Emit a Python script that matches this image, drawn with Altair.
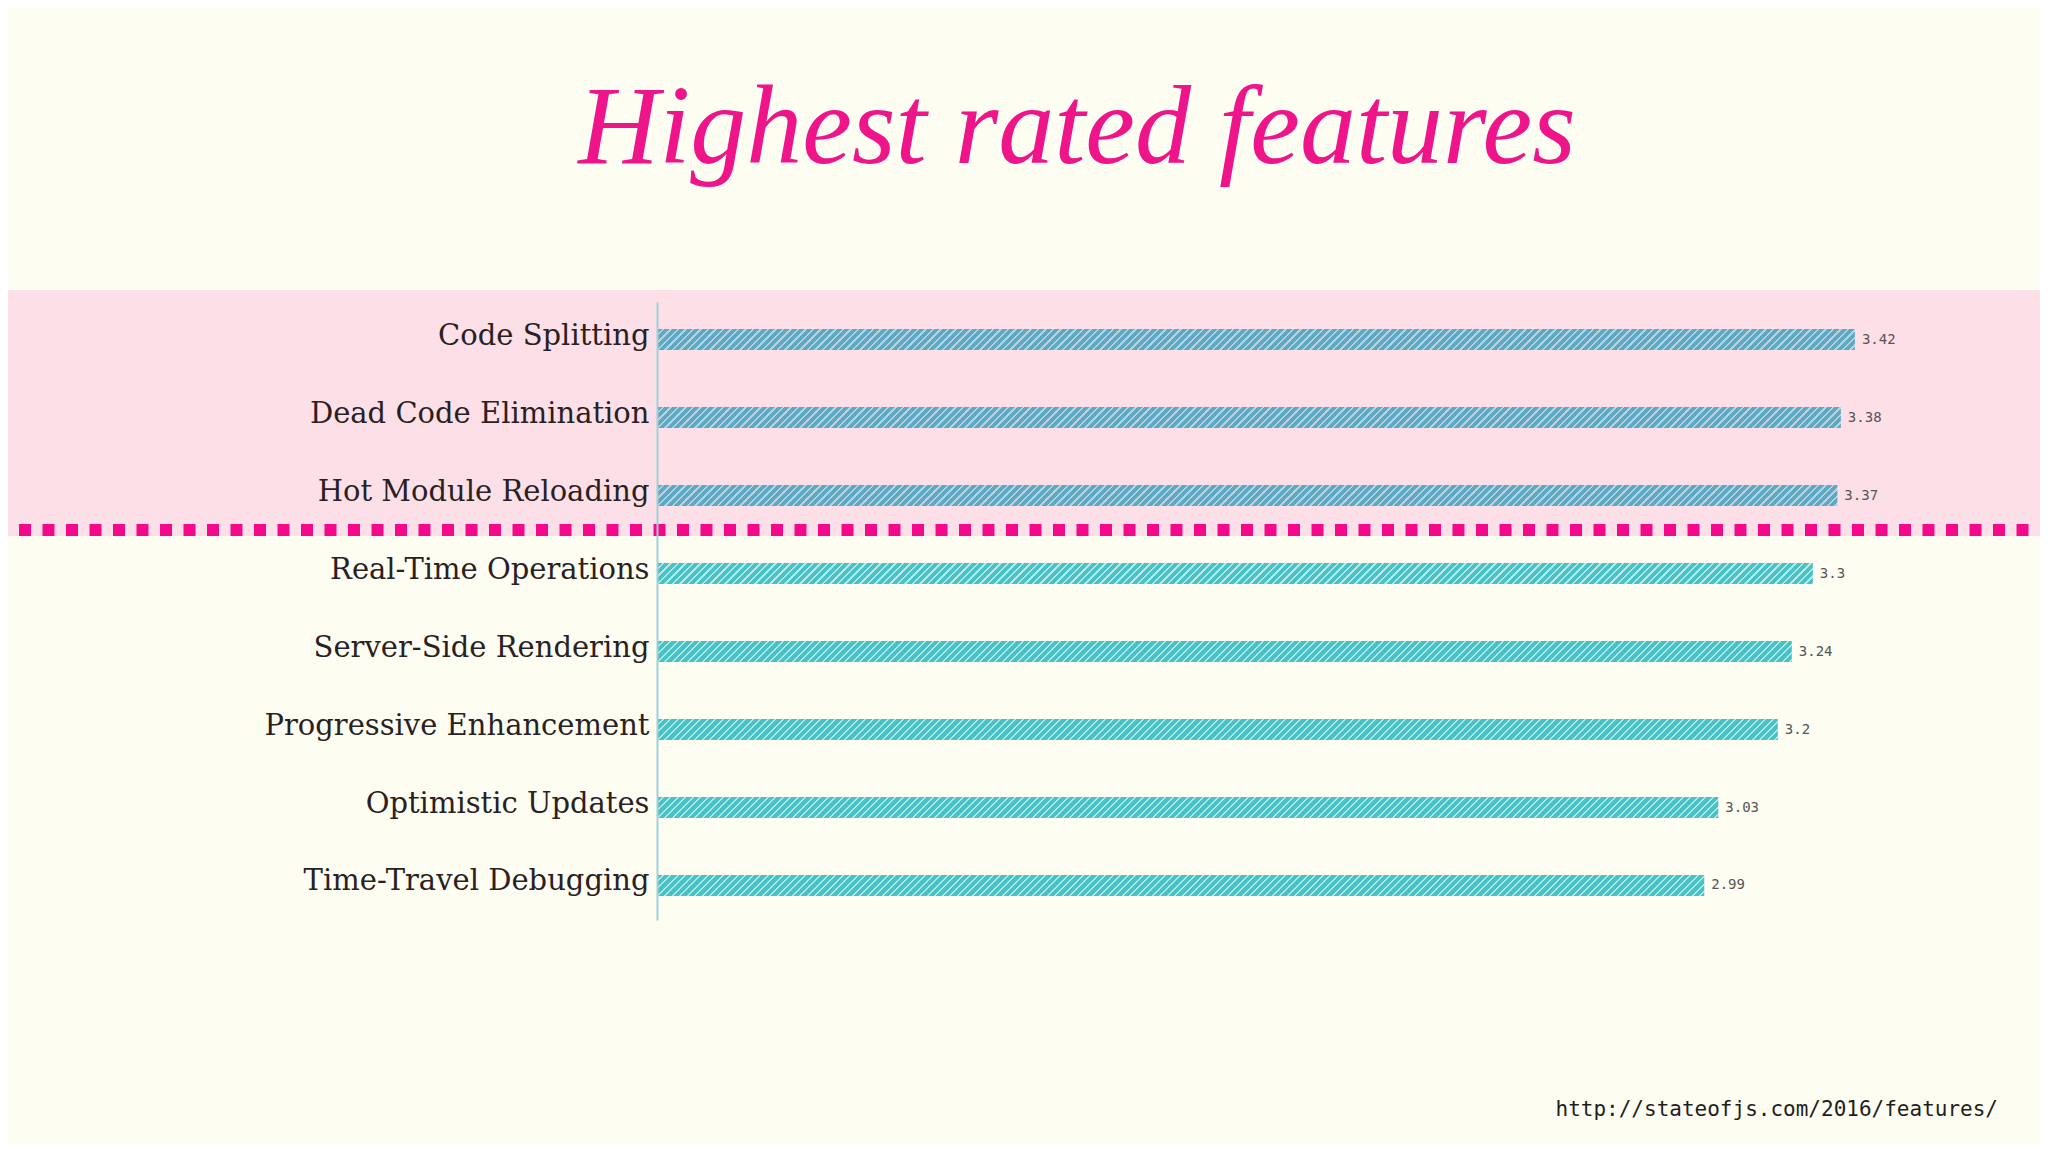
import altair as alt
import pandas as pd

# ---------------- data ----------------
features = [
    "Code Splitting",
    "Dead Code Elimination",
    "Hot Module Reloading",
    "Real-Time Operations",
    "Server-Side Rendering",
    "Progressive Enhancement",
    "Optimistic Updates",
    "Time-Travel Debugging",
]
scores = [3.42, 3.38, 3.37, 3.3, 3.24, 3.2, 3.03, 2.99]
groups = ["top", "top", "top", "rest", "rest", "rest", "rest", "rest"]
value_labels = [f"{v:g}" for v in scores]
title_text = ["Highest rated features"]
source_text = ["http://stateofjs.com/2016/features/"]

# ---------------- styling / layout ----------------
BG = "#fefdf2"
PINK_BAND = "#fde0e7"
PINK = "#f5098b"
AXIS_COL = "#9dd0d8"
LABEL_COL = "#2a1f23"
BASE = {"top": "#5da9c1", "rest": "#48c2c6"}
STRIPE = {"top": "#b6d1e3", "rest": "#b2e9e7"}

TOTAL_W, TOTAL_H = 2032, 1136
X_MAX = 3.9
PLOT_W = 1366
PLOT_H = 618
PAD_L, PAD_T = 649, 294
PAD_R = TOTAL_W - PAD_L - PLOT_W
PAD_B = TOTAL_H - PAD_T - PLOT_H
PX = PLOT_W / X_MAX
P_INNER, P_OUTER = 0.73, 0.327
STEP = PLOT_H / (len(features) - P_INNER + 2 * P_OUTER)
BAR_H = STEP * (1 - P_INNER)

df = pd.DataFrame(
    {"feature": features, "score": scores, "group": groups, "label": value_labels}
)

y_enc = alt.Y(
    "feature:N",
    sort=features,
    scale=alt.Scale(domain=features, paddingInner=P_INNER, paddingOuter=P_OUTER, align=0.53),
    axis=alt.Axis(
        title=None,
        domain=True,
        domainColor=AXIS_COL,
        domainWidth=2,
        ticks=False,
        grid=False,
        labelFont="DejaVu Serif",
        labelFontSize=29,
        labelColor=LABEL_COL,
        labelPadding=8,
        labelLimit=600,
        labelBaseline="alphabetic",
        labelOffset=5,
        zindex=1,
    ),
)
x_enc = alt.X("score:Q", scale=alt.Scale(domain=[0, X_MAX], nice=False), axis=None)


def hatch(base, stripe, w, h, period=7.5, thick=2.2):
    total = w + h
    stops = []
    q = 0.0
    while q < total:
        a = round(q / total, 6)
        b = round(min((q + period - thick) / total, 1.0), 6)
        c = round(min((q + period) / total, 1.0), 6)
        stops += [
            {"offset": a, "color": base},
            {"offset": b, "color": base},
            {"offset": b, "color": stripe},
            {"offset": c, "color": stripe},
        ]
        q += period
    r = h / w
    x2 = (1 + r) / (1 + r * r)
    y2 = r * x2
    return {"gradient": "linear", "x1": 0, "y1": 0, "x2": x2, "y2": y2, "stops": stops}


layers = []

# pink highlight band behind the top three
layers.append(
    alt.Chart(alt.Data(values=[{"k": 1}]))
    .mark_rect(color=PINK_BAND)
    .encode(
        x=alt.value(-PAD_L),
        x2=alt.value(TOTAL_W - PAD_L),
        y=alt.value(-12),
        y2=alt.value(234),
    )
)

# dotted separator
layers.append(
    alt.Chart(alt.Data(values=[{"k": 1}]))
    .mark_rule(color=PINK, strokeWidth=12, strokeDash=[12, 11.5], strokeDashOffset=12.5, strokeCap="butt")
    .encode(x=alt.value(-PAD_L), x2=alt.value(TOTAL_W - PAD_L), y=alt.value(228))
)

# bars, each with its own hatch gradient
for f, v, g in zip(features, scores, groups):
    w = v * PX
    layers.append(
        alt.Chart(df)
        .transform_filter(alt.datum.feature == f)
        .mark_bar(fill=hatch(BASE[g], STRIPE[g], w, BAR_H), strokeWidth=0)
        .encode(x=x_enc, y=y_enc)
    )

# value labels
layers.append(
    alt.Chart(df)
    .mark_text(align="left", baseline="middle", dx=7, font="DejaVu Sans Mono", fontSize=14, color="#555555")
    .encode(x=x_enc, y=y_enc, text="label:N")
)

# title
layers.append(
    alt.Chart(pd.DataFrame({"t": title_text}))
    .mark_text(
        align="center",
        baseline="alphabetic",
        font="Liberation Serif",
        fontStyle="italic",
        fontSize=112,
        color="#ee1489",
    )
    .encode(x=alt.value(420), y=alt.value(-139), text="t:N")
)

# source footer
layers.append(
    alt.Chart(pd.DataFrame({"t": source_text}))
    .mark_text(align="right", baseline="alphabetic", font="DejaVu Sans Mono", fontSize=21, color="#1e1e1e")
    .encode(x=alt.value(1341), y=alt.value(814), text="t:N")
)

chart = (
    alt.layer(*layers)
    .properties(
        width=PLOT_W,
        height=PLOT_H,
        padding={"left": PAD_L, "top": PAD_T, "right": PAD_R, "bottom": PAD_B},
        autosize="none",
        background=BG,
    )
    .configure_view(stroke=None)
)

chart.save("out.html", embed_options={"renderer": "svg", "actions": False})
